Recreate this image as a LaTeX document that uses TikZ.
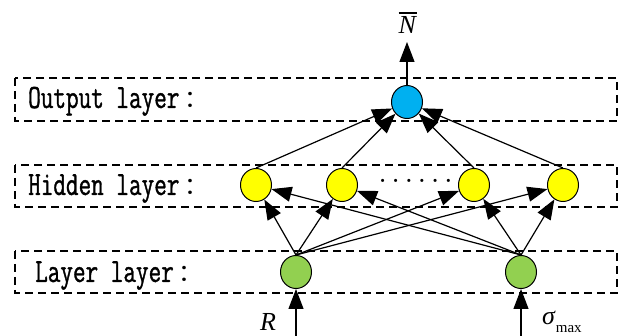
\documentclass[tikz,border=0pt]{standalone}
\usepackage{fontspec}
\setmainfont{Liberation Serif}
\newfontfamily\lblfont[FakeStretch=0.72,FakeBold=1.0]{Latin Modern Mono}
\newfontfamily\cjk{Noto Sans CJK SC}
\usetikzlibrary{arrows.meta,shapes.geometric}
\definecolor{outblue}{RGB}{0,176,240}
\definecolor{hidyellow}{RGB}{255,255,0}
\definecolor{ingreen}{RGB}{146,208,80}
\tikzset{
  neuron/.style={draw=black,line width=1pt,ellipse,minimum width=31pt,minimum height=33pt,inner sep=0pt},
  layerbox/.style={draw=black,line width=1.2pt,dash pattern=on 8pt off 5pt},
  conn/.style={line width=1.2pt,-{Triangle[length=20pt,width=15pt]}},
  lbl/.style={anchor=base west,inner sep=0pt,font=\lblfont\fontsize{34}{34}\selectfont},
  varlbl/.style={inner sep=0pt,font=\fontsize{26}{26}\selectfont}
}
\newcommand{\barN}{\setbox0\hbox{\textit{N}}\vbox{\hrule width\wd0 height 1.3pt\kern3pt\box0}}
\newcommand{\fwcolon}{\hspace{5pt}{\cjk\fontsize{24}{24}\selectfont ：}}
\begin{document}
\begin{tikzpicture}[x=1pt,y=-1pt]
\useasboundingbox (0,0) rectangle (621,336);
% dashed layer frames
\draw[layerbox] (15,78) rectangle (617,121);
\draw[layerbox] (15,165) rectangle (617,207);
\draw[layerbox] (15,251) rectangle (617,293);
% layer titles
\node[lbl] (tout) at (28,108) {Output layer\fwcolon};
\node[lbl] (thid) at (28,195) {Hidden layer\fwcolon};
\node[lbl] (tin) at (35,282) {Layer layer\fwcolon};
% neurons
\node[neuron,fill=outblue] (out) at (407,102) {};
\node[neuron,fill=hidyellow] (h1) at (256,185) {};
\node[neuron,fill=hidyellow] (h2) at (342,185) {};
\node[neuron,fill=hidyellow] (h3) at (474,185) {};
\node[neuron,fill=hidyellow] (h4) at (563,185) {};
\node[neuron,fill=ingreen] (g1) at (296,272) {};
\node[neuron,fill=ingreen] (g2) at (521,272) {};
\node[inner sep=0pt,font=\fontsize{26}{26}\selectfont] (dots) at (415.5,184)
  {\textperiodcentered\hspace{4.5pt}\textperiodcentered\hspace{4.5pt}\textperiodcentered\hspace{4.5pt}\textperiodcentered\hspace{4.5pt}\textperiodcentered\hspace{4.5pt}\textperiodcentered};
% inputs and output
\coordinate (inR) at (296,336);
\coordinate (inS) at (521,336);
\coordinate (outN) at (407,42);
\draw[conn] (inR) -- (g1);
\draw[conn] (inS) -- (g2);
\draw[conn] (out) -- (outN);
\node[varlbl] (lR) at (268,322) {\textit{R}};
\node[varlbl,anchor=west] (lS) at (542,322) {\textit{σ}\raisebox{-0.3em}{\fontsize{15}{15}\selectfont max}};
\node[varlbl,anchor=south] (lN) at (408,34) {\barN};
% input to hidden
\foreach \g in {g1,g2}
  \foreach \h in {h1,h2,h3,h4}
    \draw[conn] (\g.north) -- (\h);
% hidden to output
\foreach \h in {h1,h2,h3,h4}
  \draw[conn] (\h.north) -- (out);
\end{tikzpicture}
\end{document}
